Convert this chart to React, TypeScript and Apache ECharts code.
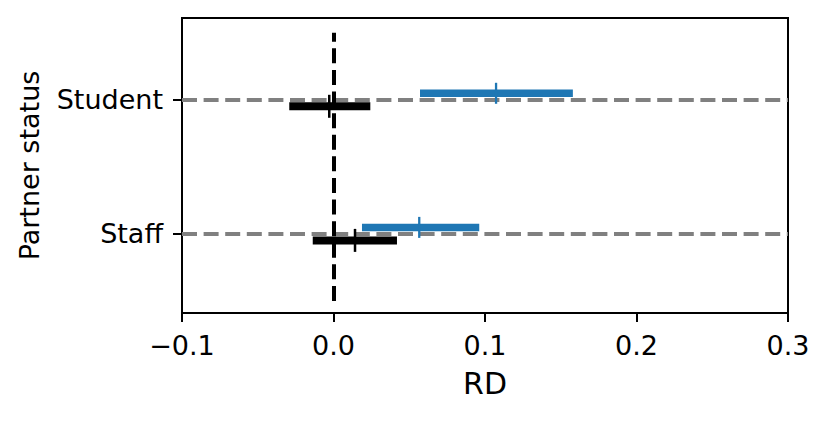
import React, { useEffect, useRef } from "react";
import * as echarts from "echarts";

// Categories on the y axis (index 0 = bottom)
const categories = ["Staff", "Student"];

// Blue series (point estimate and interval)
const blueMid = [0.0566, 0.1073];
const blueLow = [0.0188, 0.0571];
const blueHigh = [0.0962, 0.158];

// Black series (point estimate and interval)
const blackMid = [0.0142, -0.0028];
const blackLow = [-0.0137, -0.0292];
const blackHigh = [0.0419, 0.0243];

// X axis ticks
const xTicks = [-0.1, 0.0, 0.1, 0.2, 0.3];
// Vertical reference line at RD = 0, spanning y from -0.5 to 1.5
const zeroLineX = 0;
const zeroLineSpan = [-0.5, 1.5];

const FONT = "DejaVu Sans";

function makeSeries(
  name: string,
  low: number[],
  high: number[],
  mid: number[],
  color: string,
  offset: number,
  barH: number,
  tickH: number,
  tickW: number
) {
  const data = categories.map((_, i) => [low[i], high[i], mid[i], i]);
  return {
    type: "custom",
    name,
    z: 5,
    data,
    encode: { x: [0, 1, 2], y: 3 },
    renderItem: (params: any, api: any) => {
      const y = api.value(3);
      const p1 = api.coord([api.value(0), y]);
      const p2 = api.coord([api.value(1), y]);
      const pm = api.coord([api.value(2), y]);
      const cy = p1[1] + offset;
      return {
        type: "group",
        children: [
          {
            type: "rect",
            shape: { x: p1[0], y: cy - barH / 2, width: p2[0] - p1[0], height: barH },
            style: { fill: color },
          },
          {
            type: "line",
            shape: { x1: pm[0], y1: cy - tickH / 2, x2: pm[0], y2: cy + tickH / 2 },
            style: { stroke: color, lineWidth: tickW },
          },
        ],
      };
    },
  };
}

export default function App() {
  const ref = useRef<HTMLDivElement>(null);
  useEffect(() => {
    if (!ref.current) return;
    const chart = echarts.init(ref.current, null, { renderer: "svg" });
    chart.setOption({
      animation: false,
      backgroundColor: "#ffffff",
      grid: {
        left: 182,
        right: 41,
        top: 18,
        bottom: 109,
        show: true,
        borderColor: "#000",
        borderWidth: 2,
        backgroundColor: "transparent",
      },
      xAxis: {
        type: "value",
        min: xTicks[0],
        max: xTicks[xTicks.length - 1],
        interval: 0.1,
        name: "RD",
        nameLocation: "middle",
        nameGap: 55,
        nameTextStyle: { fontFamily: FONT, fontSize: 30, color: "#000" },
        axisLine: { show: true, onZero: false, lineStyle: { color: "#000", width: 2 } },
        axisTick: { show: true, length: 9, lineStyle: { color: "#000", width: 2 } },
        axisLabel: {
          fontFamily: FONT,
          fontSize: 27,
          color: "#000",
          margin: 19,
          formatter: (v: number) => {
            const s = Math.abs(v).toFixed(1);
            return v < -1e-9 ? "\u2212" + s : s;
          },
        },
        splitLine: { show: false },
      },
      yAxis: {
        type: "value",
        min: -0.59,
        max: 1.61,
        name: "Partner status",
        nameLocation: "middle",
        nameRotate: 90,
        nameGap: 139,
        nameTextStyle: { fontFamily: FONT, fontSize: 27, color: "#000" },
        axisLine: { show: true, onZero: false, lineStyle: { color: "#000", width: 2 } },
        axisTick: {
          show: true,
          length: 9,
          customValues: [0, 1],
          lineStyle: { color: "#000", width: 2 },
        },
        axisLabel: {
          fontFamily: FONT,
          fontSize: 27,
          color: "#000",
          margin: 19,
          padding: [4, 0, 0, 0],
          customValues: [0, 1],
          formatter: (v: number) => categories[Math.round(v)] ?? "",
        },
        splitLine: { show: false },
      },
      series: [
        {
          type: "line",
          data: [],
          z: 2,
          silent: true,
          markLine: {
            silent: true,
            symbol: "none",
            label: { show: false },
            emphasis: { disabled: true },
            lineStyle: { color: "#808080", width: 3.8, type: [15, 6.6], opacity: 1 },
            data: categories.map((_, i) => ({ yAxis: i })),
          },
        },
        makeSeries("blue", blueLow, blueHigh, blueMid, "#1f77b4", -6.5, 7.5, 21, 2.3),
        makeSeries("black", blackLow, blackHigh, blackMid, "#000000", 6.5, 8, 23, 2.5),
        {
          type: "line",
          data: [],
          z: 10,
          silent: true,
          markLine: {
            silent: true,
            symbol: "none",
            label: { show: false },
            emphasis: { disabled: true },
            lineStyle: { color: "#000", width: 4, type: [15, 6.6], opacity: 1 },
            data: [
              [
                { coord: [zeroLineX, zeroLineSpan[0]] },
                { coord: [zeroLineX, zeroLineSpan[1]] },
              ],
            ],
          },
        },
      ],
    });
    return () => chart.dispose();
  }, []);
  return (
    <div
      ref={ref}
      style={{ position: "fixed", left: 0, top: 0, width: 829, height: 422, background: "#fff" }}
    />
  );
}
